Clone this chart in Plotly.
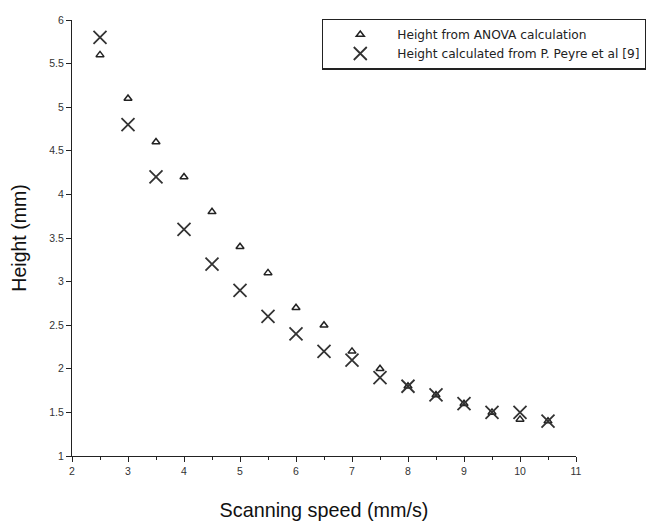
import plotly.graph_objects as go

speed = [2.5, 3, 3.5, 4, 4.5, 5, 5.5, 6, 6.5, 7, 7.5, 8, 8.5, 9, 9.5, 10, 10.5]
anova = [5.6, 5.1, 4.6, 4.2, 3.8, 3.4, 3.1, 2.7, 2.5, 2.2, 2.0, 1.8, 1.7, 1.6, 1.5, 1.42, 1.4]
peyre = [5.8, 4.8, 4.2, 3.6, 3.2, 2.9, 2.6, 2.4, 2.2, 2.1, 1.9, 1.8, 1.7, 1.6, 1.5, 1.5, 1.4]

fig = go.Figure()
fig.add_trace(go.Scatter(
    x=speed, y=anova, mode="markers", name="Height from ANOVA calculation",
    marker=dict(symbol="triangle-up-open", size=7, color="#222",
                line=dict(width=1.5, color="#222"))))
fig.add_trace(go.Scatter(
    x=speed, y=peyre, mode="markers", name="Height calculated from P. Peyre et al [9]",
    marker=dict(symbol="x-thin-open", size=13, color="#333",
                line=dict(width=1.8, color="#333"))))

axis_common = dict(showgrid=False, zeroline=False, showline=True, linecolor="#222",
                   linewidth=1.2, ticks="outside", ticklen=5, tickcolor="#222",
                   tickfont=dict(family="Liberation Sans, Arial", size=10.5, color="#333"),
                   ticklabeloverflow="allow", mirror=False)

fig.update_layout(
    width=660, height=516,
    margin=dict(l=64, r=92, t=6, b=67),
    plot_bgcolor="white", paper_bgcolor="white",
    xaxis=dict(range=[2, 11], dtick=1, tick0=2,
               minor=dict(dtick=0.5, ticks="outside", ticklen=3, tickcolor="#222"),
               title=dict(text="Scanning speed (mm/s)", standoff=27,
                          font=dict(family="Liberation Sans, Arial", size=19.8, color="#111")),
               **axis_common),
    yaxis=dict(range=[1, 6], dtick=0.5, tick0=1,
               title=dict(text="Height (mm)", standoff=17,
                          font=dict(family="Liberation Sans, Arial", size=19.5, color="#111")),
               **axis_common),
    legend=dict(x=0.496, y=1.003, xanchor="left", yanchor="top",
                bordercolor="#222", borderwidth=1.3, bgcolor="white",
                font=dict(family="DejaVu Sans", size=12.2, color="#222"),
                itemwidth=64, entrywidth=330, entrywidthmode="pixels"),
    showlegend=True,
)

fig.write_html("out.html")
